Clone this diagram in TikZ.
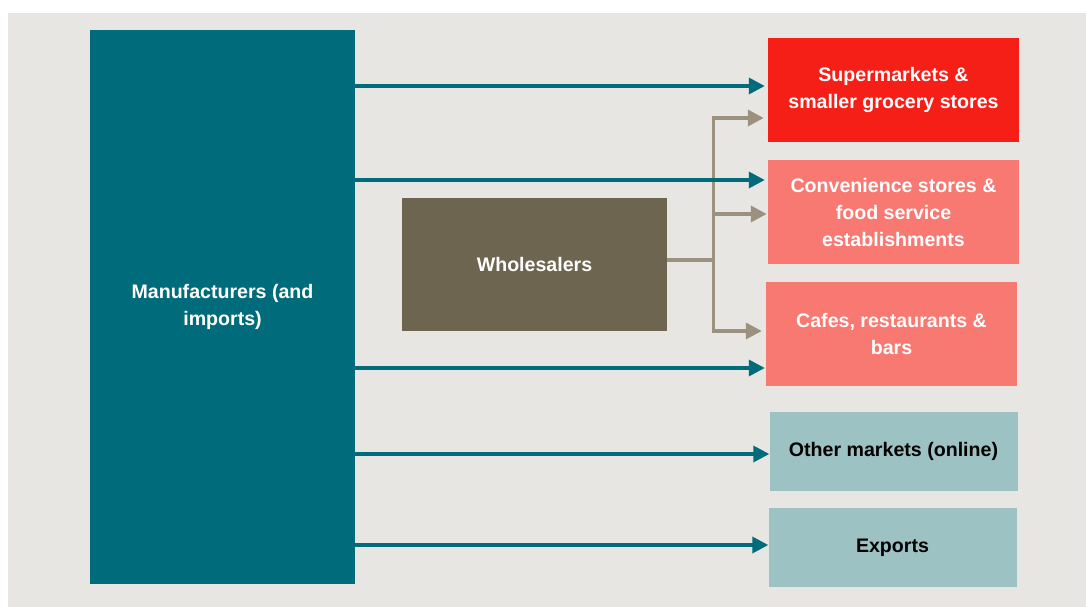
\documentclass[tikz,border=0pt]{standalone}
\usepackage{fontspec}
\setmainfont{Liberation Sans}
\usepackage{tikz}
\usetikzlibrary{positioning, arrows.meta}

\definecolor{bgGrey}{HTML}{E8E6E2}
\definecolor{mfrTeal}{HTML}{006B7B}
\definecolor{wsBrown}{HTML}{6D6550}
\definecolor{wsLine}{HTML}{9C917E}
\definecolor{superRed}{HTML}{F51F17}
\definecolor{shopPink}{HTML}{F87872}
\definecolor{otherBlue}{HTML}{9CC2C4}

\begin{document}
\begin{tikzpicture}[
x=1pt, y=-1pt,
font=\fontsize{19.6}{27}\selectfont\bfseries,
block/.style={
	rectangle,
	align=center,
	inner sep=0pt,
	text=white
},
outlet/.style={
	block,
	minimum width=251pt,
	minimum height=104pt
},
market/.style={
	block,
	text=black,
	fill=otherBlue,
	minimum width=248pt,
	minimum height=79pt
},
flow/.style={
	draw=mfrTeal, line width=3.4pt, -{Triangle[length=16pt, width=16pt]}
},
feed/.style={
	draw=wsLine, line width=3.4pt
},
feedarrow/.style={
	feed, -{Triangle[length=16pt, width=16pt]}
}
]

\useasboundingbox (0,0) rectangle (1086,607);
\fill[white] (0,0) rectangle (1086,607);
\fill[bgGrey] (8,13) rectangle (1086,607);

% Nodes
\node[block, fill=mfrTeal, minimum width=265pt, minimum height=554pt] (manufacturers) at (222.5,307) {Manufacturers (and\\imports)};
\node[block, fill=wsBrown, minimum width=265pt, minimum height=133pt] (wholesalers) at (534.5,264.5) {Wholesalers};
\node[outlet, fill=superRed] (supermarkets) at (893.5,90) {Supermarkets \&\\smaller grocery stores};
\node[outlet, fill=shopPink] (convenience) at (893.5,212) {Convenience stores \&\\food service\\establishments};
\node[outlet, fill=shopPink] (cafes) at (891.5,334) {Cafes, restaurants \&\\bars};
\node[market] (other) at (893.5,451.5) {Other markets (online)};
\node[market] (exports) at (892.5,547.5) {Exports};

% Lines
\draw[feed] ([yshift=4.5pt]wholesalers.east) -- ++(46,0) coordinate (split);
\draw[feedarrow] (split) |- ([yshift=-28pt, xshift=-4pt]supermarkets.west);
\draw[feedarrow] (split) |- ([yshift=-2pt, xshift=-1pt]convenience.west);
\draw[feedarrow] (split) |- ([yshift=3pt, xshift=-4pt]cafes.west);

\draw[flow] (manufacturers.east |- 0,86) -- ([yshift=4pt, xshift=-3pt]supermarkets.west);
\draw[flow] (manufacturers.east |- 0,180) -- ([yshift=32pt, xshift=-3pt]convenience.west);
\draw[flow] (manufacturers.east |- 0,368) -- ([yshift=-34pt, xshift=-1pt]cafes.west);
\draw[flow] (manufacturers.east |- 0,454) -- ([yshift=-2.5pt]other.west);
\draw[flow] (manufacturers.east |- 0,545) -- ([yshift=2.5pt]exports.west);

\end{tikzpicture}
\end{document}
